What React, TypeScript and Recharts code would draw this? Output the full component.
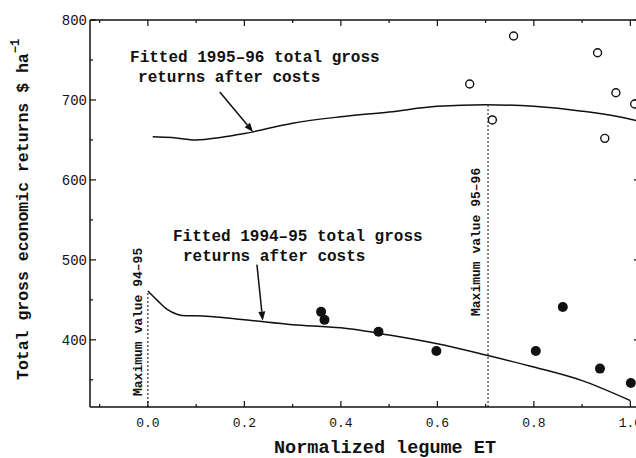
import React from "react"
import { ComposedChart, Line, Scatter, XAxis, YAxis, ReferenceLine, ReferenceDot } from "recharts"

// fitted curves
const fit9495X = [0, 0.02, 0.04, 0.06, 0.08, 0.1, 0.2, 0.3, 0.4, 0.5, 0.6, 0.7, 0.8, 0.9, 1.0]
const fit9495Y = [461, 449, 438, 432, 430, 430, 425, 419, 415, 406, 395, 381, 366, 349, 324]

const fit9596X = [0.01, 0.05, 0.1, 0.15, 0.2, 0.3, 0.4, 0.5, 0.6, 0.7, 0.8, 0.9, 1.0, 1.02]
const fit9596Y = [654, 653, 650, 653, 658, 671, 679, 685, 692, 694, 692, 686, 676, 673]

// observed points
const obs9495X = [0.359, 0.366, 0.478, 0.598, 0.804, 0.86, 0.937, 1.001]
const obs9495Y = [435, 425, 410, 386, 386, 441, 364, 346]

const obs9596X = [0.667, 0.714, 0.758, 0.932, 0.947, 0.97, 1.009]
const obs9596Y = [720, 675, 780, 759, 652, 709, 695]

const xTicks = [-0.1, 0, 0.1, 0.2, 0.3, 0.4, 0.5, 0.6, 0.7, 0.8, 0.9, 1.0]
const xLabels = ["0.0", "0.2", "0.4", "0.6", "0.8", "1.0"]
const yTicks = [350, 400, 450, 500, 550, 600, 650, 700, 750, 800]
const yLabels = ["400", "500", "600", "700", "800"]

const toPoints = (xs: number[], ys: number[]) => xs.map((x, i) => ({ x, y: ys[i] }))

const fit9495 = toPoints(fit9495X, fit9495Y)
const fit9596 = toPoints(fit9596X, fit9596Y)
const obs9495 = toPoints(obs9495X, obs9495Y)
const obs9596 = toPoints(obs9596X, obs9596Y)

const MONO = '"Liberation Mono", "DejaVu Sans Mono", monospace'
const INK = "#111"

const BottomTick = ({ x, y, payload }: any) => {
  const label = Number(payload.value).toFixed(1)
  const major = xLabels.includes(label)
  return (
    <g>
      <line x1={x} y1={y} x2={x} y2={y - (major ? 6 : 3)} stroke={INK} strokeWidth={1.2} />
      {major && (
        <text x={x} y={y + 11} dy="0.71em" textAnchor="middle" fontFamily={MONO} fontSize={13} fill={INK}>
          {label}
        </text>
      )}
    </g>
  )
}

const TopTick = ({ x, y, payload }: any) => {
  const major = xLabels.includes(Number(payload.value).toFixed(1))
  return <line x1={x} y1={y} x2={x} y2={y + (major ? 6 : 3)} stroke={INK} strokeWidth={1.2} />
}

const LeftTick = ({ x, y, payload }: any) => {
  const label = String(payload.value)
  const major = yLabels.includes(label)
  return (
    <g>
      <line x1={x} y1={y} x2={x + (major ? 6 : 3)} y2={y} stroke={INK} strokeWidth={1.2} />
      {major && (
        <text x={x - 3} y={y} dy="0.355em" textAnchor="end" fontFamily={MONO} fontSize={14} fill={INK}>
          {label}
        </text>
      )}
    </g>
  )
}

const RightTick = ({ x, y, payload }: any) => {
  const major = yLabels.includes(String(payload.value))
  return <line x1={x} y1={y} x2={x - (major ? 6 : 3)} y2={y} stroke={INK} strokeWidth={1.2} />
}

const YTitle = ({ viewBox }: any) => {
  const x = viewBox.x + 28
  const y = viewBox.y + viewBox.height - 27
  return (
    <text x={x} y={y} transform={`rotate(-90 ${x} ${y})`} fontFamily={MONO} fontWeight="bold" fontSize={16.5} fill={INK}>
      Total gross economic returns $ ha
      <tspan dy={-9} fontSize={12}>−1</tspan>
    </text>
  )
}

const XTitle = ({ viewBox }: any) => (
  <text
    x={viewBox.x + 295}
    y={viewBox.y + 46}
    textAnchor="middle"
    fontFamily={MONO}
    fontWeight="bold"
    fontSize={18.5}
    fill={INK}
  >
    Normalized legume ET
  </text>
)

const OpenDot = ({ cx, cy }: any) => <circle cx={cx} cy={cy} r={4} fill="#fff" stroke={INK} strokeWidth={1.4} />
const FilledDot = ({ cx, cy }: any) => <circle cx={cx} cy={cy} r={5} fill={INK} />

// dotted "maximum value" marker with its rotated caption
const maxMarker = (caption: string, gap: number, lift: number) => (p: any) => {
  const bottom = Math.max(p.y1, p.y2)
  const tx = p.x1 - gap
  const ty = bottom - lift
  return (
    <g>
      <line x1={p.x1} y1={p.y1} x2={p.x2} y2={p.y2} stroke={INK} strokeWidth={1} strokeDasharray="2 2" />
      <text x={tx} y={ty} transform={`rotate(-90 ${tx} ${ty})`} fontFamily={MONO} fontWeight="bold" fontSize={13} fill={INK}>
        {caption}
      </text>
    </g>
  )
}

const arrow = (p: any) => {
  const ang = Math.atan2(p.y2 - p.y1, p.x2 - p.x1)
  const len = 9
  const half = 3.5
  const bx = p.x2 - len * Math.cos(ang)
  const by = p.y2 - len * Math.sin(ang)
  const nx = -Math.sin(ang) * half
  const ny = Math.cos(ang) * half
  return (
    <g>
      <line x1={p.x1} y1={p.y1} x2={bx} y2={by} stroke={INK} strokeWidth={1.5} />
      <polygon points={`${p.x2},${p.y2} ${bx + nx},${by + ny} ${bx - nx},${by - ny}`} fill={INK} />
    </g>
  )
}

const note = (line1: string, line2: string, indent: number) => ({ cx, cy }: any) => (
  <text fontFamily={MONO} fontWeight="bold" fontSize={16} fill={INK}>
    <tspan x={cx} y={cy}>{line1}</tspan>
    <tspan x={cx + indent} y={cy + 20.5}>{line2}</tspan>
  </text>
)

export default function App() {
  return (
    <div style={{ position: "fixed", left: 0, top: 0, width: 636, height: 458, overflow: "hidden", background: "#fff" }}>
      <ComposedChart width={650} height={458} margin={{ top: 0, right: 0, bottom: 0, left: 0 }}>
        <XAxis
          xAxisId="b"
          dataKey="x"
          type="number"
          orientation="bottom"
          height={51}
          domain={[-0.12, 1.02]}
          allowDataOverflow
          ticks={xTicks}
          interval={0}
          tickSize={0}
          tickMargin={0}
          tickLine={false}
          tick={BottomTick}
          axisLine={{ stroke: INK, strokeWidth: 1.5 }}
          label={<XTitle />}
        />
        <XAxis
          xAxisId="t"
          dataKey="x"
          type="number"
          orientation="top"
          height={20}
          domain={[-0.12, 1.02]}
          allowDataOverflow
          ticks={xTicks}
          interval={0}
          tickSize={0}
          tickMargin={0}
          tickLine={false}
          tick={TopTick}
          axisLine={{ stroke: INK, strokeWidth: 1.5 }}
        />
        <YAxis
          yAxisId="l"
          dataKey="y"
          type="number"
          width={90}
          domain={[316, 800]}
          allowDataOverflow
          ticks={yTicks}
          interval={0}
          tickSize={0}
          tickMargin={0}
          tickLine={false}
          tick={LeftTick}
          axisLine={{ stroke: INK, strokeWidth: 1.5 }}
          label={<YTitle />}
        />
        <YAxis
          yAxisId="r"
          dataKey="y"
          type="number"
          orientation="right"
          width={10}
          domain={[316, 800]}
          allowDataOverflow
          ticks={yTicks}
          interval={0}
          tickSize={0}
          tickMargin={0}
          tickLine={false}
          tick={RightTick}
          axisLine={{ stroke: INK, strokeWidth: 1.5 }}
        />

        <ReferenceLine
          xAxisId="b"
          yAxisId="l"
          segment={[{ x: 0, y: 316 }, { x: 0, y: 461 }]}
          shape={maxMarker("Maximum value 94–95", 6, 11)}
        />
        <ReferenceLine
          xAxisId="b"
          yAxisId="l"
          segment={[{ x: 0.705, y: 316 }, { x: 0.705, y: 693 }]}
          shape={maxMarker("Maximum value 95–96", 8, 91)}
        />

        <Line xAxisId="b" yAxisId="l" data={fit9596} dataKey="y" type="monotone" dot={false} stroke={INK} strokeWidth={1.5} isAnimationActive={false} />
        <Line xAxisId="b" yAxisId="l" data={fit9495} dataKey="y" type="monotone" dot={false} stroke={INK} strokeWidth={1.5} isAnimationActive={false} />
        <Scatter xAxisId="b" yAxisId="l" data={obs9596} shape={OpenDot} isAnimationActive={false} />
        <Scatter xAxisId="b" yAxisId="l" data={obs9495} shape={FilledDot} isAnimationActive={false} />

        <ReferenceLine xAxisId="b" yAxisId="l" segment={[{ x: 0.149, y: 710 }, { x: 0.218, y: 660 }]} shape={arrow} />
        <ReferenceLine xAxisId="b" yAxisId="l" segment={[{ x: 0.226, y: 494 }, { x: 0.238, y: 424 }]} shape={arrow} />

        <ReferenceDot
          xAxisId="b"
          yAxisId="l"
          x={-0.037}
          y={747.5}
          r={0}
          shape={note("Fitted 1995–96 total gross", "returns after costs", 8)}
        />
        <ReferenceDot
          xAxisId="b"
          yAxisId="l"
          x={0.052}
          y={523.75}
          r={0}
          shape={note("Fitted 1994–95 total gross", "returns after costs", 10)}
        />
      </ComposedChart>
    </div>
  )
}
